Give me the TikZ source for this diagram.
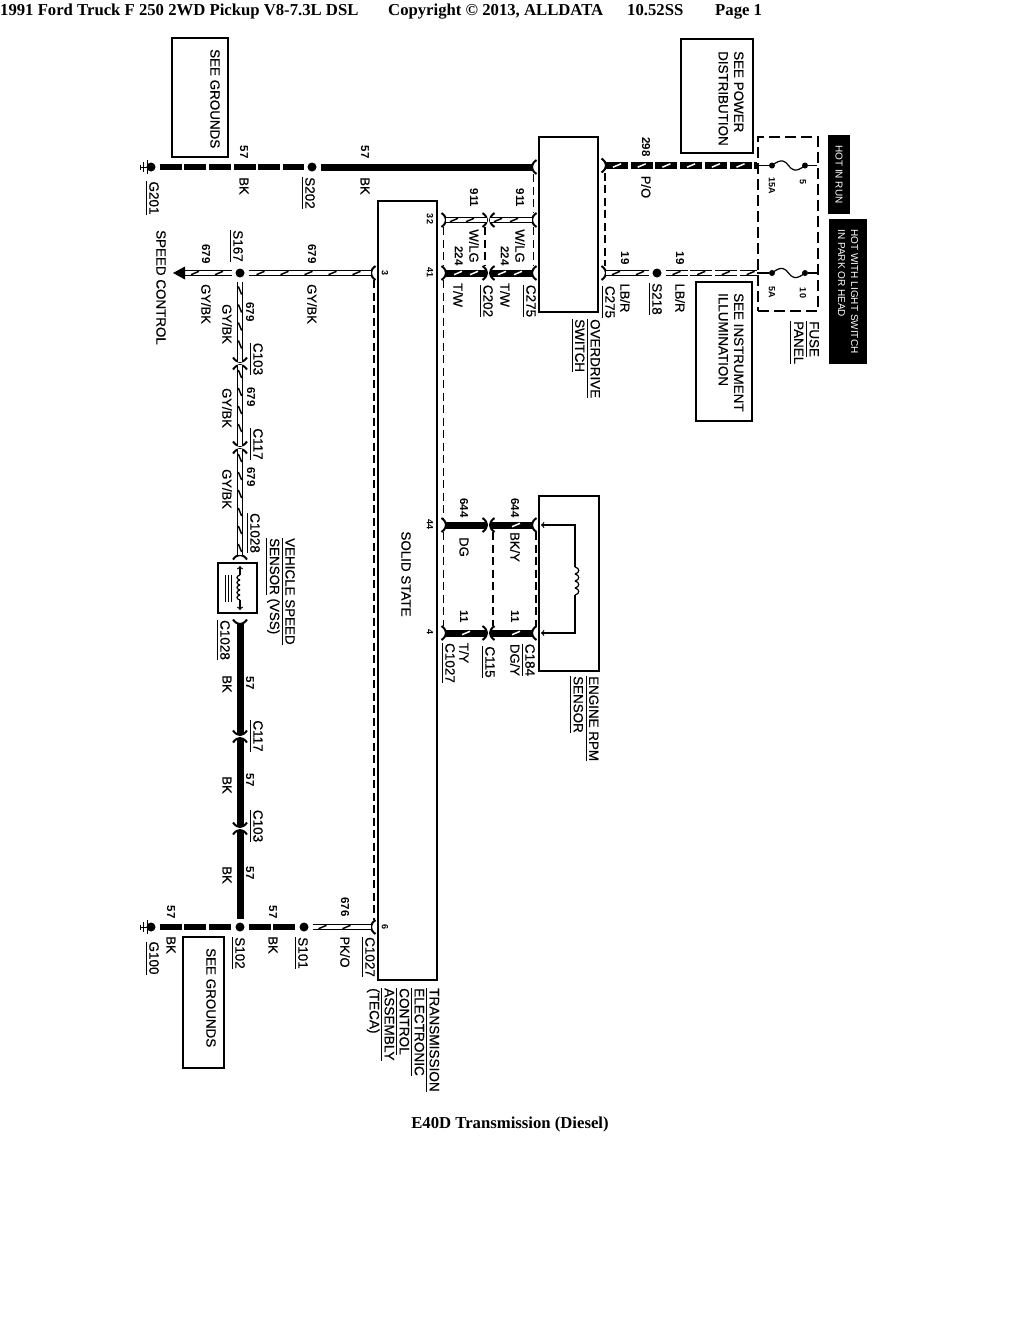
\documentclass[tikz,border=0pt]{standalone}
\usepackage{fontspec}
\setmainfont{Liberation Serif}
\newfontfamily\wirefont[FakeBold=0.5]{Liberation Sans}
\newfontfamily\numfont{Liberation Sans}
\usetikzlibrary{decorations.markings}
\newcommand{\ulab}[1]{\leavevmode\setbox0=\hbox{#1}\rlap{\smash{\rule[-3.6pt]{\wd0}{.9pt}}}\box0\relax}
\tikzset{
    fork/.pic={\draw[line width=2pt] (4.5,-7) .. controls (1,-4.5) and (0,-2) .. (0,0) .. controls (0,2) and (1,4.5) .. (4.5,7);},
    gndbars/.pic={\draw[line width=1pt] (-11,0) -- (-3,0) (-11,-2.5) -- (-11,2.5) (-7.5,-5) -- (-7.5,5) (-4,-7) -- (-4,7);},
    ticks/.style n args={3}{postaction={decorate,decoration={markings,mark=between positions #2pt and -4pt step #3pt with {\draw[#1,solid,line width=1.5pt] (-4pt,-1.7pt) -- (4pt,1.7pt);}}}},
    wiresolid/.style={line width=7pt},
    wirebroken/.style={line width=6.5pt,dash pattern=on 22pt off 2.7pt},
    wiretwin/.style={line width=1.2pt,double=white,double distance=4pt},
    shield/.style={line width=1.2pt,dash pattern=on 8pt off 4.5pt},
    finewire/.style={line width=1.2pt},
    splice/.style={circle,fill=black,inner sep=0pt,minimum size=9pt,outer sep=4pt},
    pindot/.style={circle,fill=black,inner sep=0pt,minimum size=6pt},
    thinbox/.style={draw,line width=1.3pt,inner sep=0pt},
    heavybox/.style={draw,line width=2.3pt,inner sep=0pt},
    sized/.style n args={2}{minimum width=#1pt,minimum height=#2pt},
    hotbox/.style={fill=black,text=white,rotate=-90,inner sep=0pt,align=left,font=\numfont\fontsize{10}{13}\selectfont},
    caption/.style={rotate=-90,inner sep=0pt,align=left,anchor=west,font=\wirefont\fontsize{13.4}{15.5}\selectfont},
    wirenum/.style={rotate=-90,inner sep=0pt,font=\numfont\bfseries\fontsize{11.5}{13}\selectfont},
    pinnum/.style={rotate=-90,inner sep=0pt,font=\numfont\bfseries\fontsize{9}{10}\selectfont},
    wirecol/.style={rotate=-90,inner sep=0pt,font=\wirefont\fontsize{13}{15}\selectfont},
    connid/.style={rotate=-90,inner sep=0pt,font=\wirefont\fontsize{13.5}{15}\selectfont},
    pagehead/.style={anchor=base west,inner sep=0pt,font=\bfseries\fontsize{16.7}{18}\selectfont}
}
\begin{document}
\begin{tikzpicture}[x=1pt,y=-1pt,>=to]
    \useasboundingbox (0,0) rectangle (1020,1320);

    \node[pagehead] (headA) at (0,15) {1991 Ford Truck F 250 2WD Pickup V8-7.3L DSL};
    \node[pagehead] (headB) at (388,15) {Copyright © 2013, ALLDATA};
    \node[pagehead] (headC) at (627,15) {10.52SS};
    \node[pagehead] (headD) at (715,15) {Page 1};
    \node[pagehead,anchor=base] (title) at (510,1128.5) {E40D Transmission (Diesel)};

    \node[thinbox,sized={56}{119}] (gndboxA) at (200,97.5) {};
    \node[thinbox,sized={72}{114}] (powerbox) at (717,96) {};
    \node[thinbox,sized={56}{139}] (illumbox) at (724,351.5) {};
    \node[thinbox,sized={41}{131}] (gndboxB) at (203.5,1002.5) {};
    \node[heavybox,sized={59}{779}] (teca) at (407.5,590.5) {};
    \node[heavybox,sized={59}{175}] (odswitch) at (568.5,224.5) {};
    \node[heavybox,sized={60}{175}] (rpmbox) at (569,583.5) {};
    \node[heavybox,sized={39}{50}] (vssbox) at (237.5,588) {};
    \node[draw,line width=2.6pt,dash pattern=on 11pt off 5pt,inner sep=0pt,sized={60}{174}] (fusebox) at (788,224) {};
    \node[hotbox,sized={79}{22}] (hotrun) at (839,174.5) {HOT IN RUN};
    \node[hotbox,sized={145}{38}] (hotlight) at (848,291.5) {HOT WITH LIGHT SWITCH\\IN PARK OR HEAD};

    \node[caption] (txtgndA) at (215,49) {SEE GROUNDS};
    \node[caption] (txtgndB) at (211,948) {SEE GROUNDS};
    \node[caption] (txtpower) at (731,51) {SEE POWER\\DISTRIBUTION};
    \node[caption] (txtillum) at (731,293) {SEE INSTRUMENT\\ILLUMINATION};
    \node[caption,anchor=center] (txtstate) at (406,574) {SOLID STATE};
    \node[caption] (txtspeed) at (161,230) {SPEED CONTROL};
    \node[caption] (txtod) at (587.5,319) {\ulab{OVERDRIVE}\\\ulab{SWITCH}};
    \node[caption] (txtfuse) at (806.5,321) {\ulab{FUSE}\\\ulab{PANEL}};
    \node[caption] (txtrpm) at (586,676) {\ulab{ENGINE RPM}\\\ulab{SENSOR}};
    \node[caption] (txtvss) at (281,538) {\ulab{VEHICLE SPEED}\\\ulab{SENSOR} (VSS)};
    \node[caption,font=\wirefont\fontsize{13.6}{15}\selectfont] (txtteca) at (403,988) {\ulab{TRANSMISSION}\\\ulab{ELECTRONIC}\\\ulab{CONTROL}\\\ulab{ASSEMBLY}\\(TECA)};

    \foreach \nm/\px/\py in {sSA/312/167,sSB/240/273,sSC/657/273,sSD/240/927,sSE/304/927,gndA/151/167,gndB/151/927}
        \node[splice] (\nm) at (\px,\py) {};
    \pic at (gndA) {gndbars};
    \pic at (gndB) {gndbars};

    \foreach \nm/\px/\py in {cI/371/273,cVI/371/927,e67/532/167,e20/532/220,e73/532/273,e25/532/525,e33/532/633,bTw/490/220,bSv/490/273,bEs/490/525,bFo/490/633}
        {\coordinate (\nm) at (\px,\py); \pic at (\nm) {fork};}
    \foreach \nm/\px/\py in {cA/446/220,cB/446/273,cC/446/525,cD/446/633,aTw/487/220,aSv/487/273,aEs/487/525,aFo/487/633,gA/606/165.5,gB/606/273}
        {\coordinate (\nm) at (\px,\py); \pic[rotate=180] at (\nm) {fork};}
    \foreach \nm/\py in {vA/362,vC/446,vH/735,vK/827}
        {\coordinate (\nm) at (240,\py); \pic[rotate=90] at (\nm) {fork};}
    \foreach \nm/\py in {vB/365,vD/449,vE/555,vI/738,vL/830}
        {\coordinate (\nm) at (240,\py); \pic[rotate=-90] at (\nm) {fork};}
    \coordinate (vG) at (240,624);
    \pic[rotate=90] at (vG) {fork};
    \coordinate (spdneck) at (185,273);
    \coordinate (spdtip) at (173,273);

    \draw[wirebroken] (gndA) -- (sSA);
    \draw[wiresolid] (sSA) -- (e67);
    \draw[wirebroken] (gndB) -- (sSD);
    \draw[wirebroken] (sSD) -- (sSE);
    \draw[wiretwin,ticks={black}{10}{24}] (spdneck) -- (sSB);
    \draw[wiretwin,ticks={black}{12}{24}] (sSB) -- (cI);
    \draw[wiretwin,ticks={black}{10}{24}] (sSE) -- (cVI);
    \fill (spdtip) -- ++(12,-6.5) -- ++(0,13) -- cycle;

    \draw[wiretwin,ticks={black}{9}{18}] (sSB) -- (vA);
    \draw[wiretwin,ticks={black}{9}{18}] (vB) -- (vC);
    \draw[wiretwin,ticks={black}{9}{18}] (vD) -- (vE);
    \draw[wiresolid] (vG) -- (vH);
    \draw[wiresolid] (vI) -- (vK);
    \draw[wiresolid] (vL) -- (sSD);

    \draw[wiretwin,ticks={black}{8}{16}] (cA) -- (aTw);
    \draw[wiretwin,ticks={black}{8}{16}] (bTw) -- (e20);
    \draw[wiresolid,ticks={white}{12}{16}] (cB) -- (aSv);
    \draw[wiresolid,ticks={white}{12}{16}] (bSv) -- (e73);
    \draw[wiresolid] (cC) -- (aEs);
    \draw[wiresolid,ticks={white}{26}{40}] (bEs) -- (e25);
    \draw[wiresolid,ticks={white}{20}{40}] (cD) -- (aFo);
    \draw[wiresolid,ticks={white}{26}{40}] (bFo) -- (e33);

    \foreach \fk/\fy in {a/165.5,b/273} {
        \coordinate (fuse\fk O) at (757,\fy);
        \node[pindot] (fuse\fk L) at (772,\fy) {};
        \node[pindot] (fuse\fk R) at (805,\fy) {};
        \coordinate (fuse\fk E) at (817,\fy);
        \draw[finewire] (fuse\fk O) -- (fuse\fk L);
        \draw[finewire] (fuse\fk L.center) .. controls +(20,-16) and +(-20,16) .. (fuse\fk R.center);
        \draw[finewire] (fuse\fk R) -- (fuse\fk E);
    }
    \draw[wirebroken,ticks={white}{11}{24.7}] (gA) -- (fuseaO);
    \draw[wiretwin,ticks={black}{10}{24}] (gB) -- (sSC);
    \draw[wiretwin,dash pattern=on 22pt off 2.7pt,ticks={black}{11}{24.7}] (sSC) -- (fusebO);

    \draw[shield] ([shift={(3,7)}]cI) -- ([shift={(3,-7)}]cVI);
    \draw[shield] ([shift={(-2.5,7)}]cA) -- ([shift={(-2.5,-7)}]cB);
    \draw[shield] ([shift={(-2.5,7)}]cB) -- ([shift={(-2.5,-7)}]cC);
    \draw[shield] ([shift={(-2.5,7)}]cC) -- ([shift={(-2.5,-7)}]cD);
    \draw[shield] ([shift={(-2,7)}]aTw) -- ([shift={(-2,-7)}]aSv);
    \draw[shield] ([shift={(1.5,7)}]e67) -- ([shift={(1.5,-7)}]e20);
    \draw[shield] ([shift={(1.5,7)}]e20) -- ([shift={(1.5,-7)}]e73);
    \draw[shield] ([shift={(-1,7)}]gA) -- ([shift={(-1,-7)}]gB);
    \draw[shield] ([shift={(3,7)}]bEs) -- ([shift={(3,-7)}]bFo);
    \draw[shield] ([shift={(4,7)}]e25) -- ([shift={(4,-7)}]e33);

    \coordinate (rpmA) at (541,525);
    \coordinate (rpmB) at (575,525);
    \coordinate (rpmC) at (575,567);
    \coordinate (rpmD) at (575,595);
    \coordinate (rpmE) at (575,633);
    \coordinate (rpmF) at (541,633);
    \draw[finewire,->] (rpmC) -- (rpmB) -- (rpmA);
    \draw[finewire,->] (rpmD) -- (rpmE) -- (rpmF);
    \foreach \i in {0,...,3}
        \draw[finewire] (575,{567+7*\i}) .. controls (580,{568+7*\i}) and (580,{573+7*\i}) .. (575,{574+7*\i});

    \coordinate (vssA) at (240,566);
    \coordinate (vssB) at (240,575);
    \coordinate (vssC) at (240,600);
    \coordinate (vssD) at (240,610);
    \draw[finewire,->] (vssB) -- (vssA);
    \draw[finewire,->] (vssC) -- (vssD);
    \foreach \i in {0,...,4}
        \draw[finewire] (240,{575+5*\i}) .. controls (236,{576+5*\i}) and (236,{579+5*\i}) .. (240,{580+5*\i});
    \foreach \lx in {225,228,231}
        \draw[line width=.8pt] (\lx,575) -- (\lx,602);

    \foreach \nm/\px/\py/\tx in {nA/244/152/57,nB/365/152/57,nC/474/198/911,nD/520/198/911,nE/459/256/224,nF/505/256/224,nG/646/147/298,nH/625/258/19,nI/680/258/19,nJ/206/254/679,nK/312/254/679,nL/250/312/679,nM/251/397/679,nN/251/477/679,nO/464/508/644,nP/515/508/644,nQ/464/617/11,nR/515/617/11,nS/250/683/57,nT/250/780/57,nU/250/873/57,nV/171/912/57,nW/273/912/57,nX/345/907/676}
        \node[wirenum] (\nm) at (\px,\py) {\tx};
    \foreach \nm/\px/\py/\tx in {pA/430/219/32,pB/430/272/41,pC/385/273/3,pD/430/524/44,pE/430/632/4,pF/385/927/6,pG/772/186/15A,pH/803/182/5,pI/772/292/5A,pJ/803/293/10}
        \node[pinnum] (\nm) at (\px,\py) {\tx};
    \foreach \nm/\px/\py/\tx in {wA/244/186/BK,wB/365/186/BK,wC/474/246/{W/LG},wD/520/246/{W/LG},wE/458/295/{T/W},wF/505/295/{T/W},wG/646/187/{P/O},wH/625/298/{LB/R},wI/680/298/{LB/R},wJ/206/304/{GY/BK},wK/312/304/{GY/BK},wL/227/324/{GY/BK},wM/227/408/{GY/BK},wN/227/489/{GY/BK},wO/464/547/DG,wP/515/547/{BK/Y},wQ/464/653/{T/Y},wR/515/660/{DG/Y},wS/227/684/BK,wT/227/785/BK,wU/227/875/BK,wV/171/945/BK,wW/273/945/BK,wX/345/952/{PK/O}}
        \node[wirecol] (\nm) at (\px,\py) {\tx};
    \foreach \nm/\px/\py/\tx in {iA/154/198/G201,iB/310/193/S202,iC/238/246/S167,iD/531/301/C275,iE/488/301/C202,iF/610/302/C275,iG/657/299/S218,iH/258/359/C103,iI/258/444/C117,iJ/255/533/C1028,iK/225/640/C1028,iL/258/736/C117,iM/258/826/C103,iN/530/660/C184,iO/490/662/C115,iP/450/663/C1027,iQ/154/958/G100,iR/240/953/S102,iS/303/953/S101,iT/370/957/C1027}
        \node[connid] (\nm) at (\px,\py) {\ulab{\tx}};
\end{tikzpicture}
\end{document}
